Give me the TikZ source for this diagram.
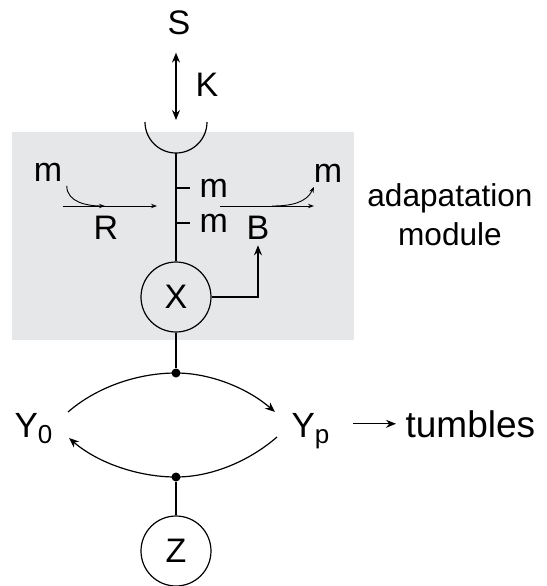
\documentclass[tikz,border=0pt]{standalone}
\usepackage{fontspec}
\setmainfont{Liberation Sans}
\usepackage{xcolor}
\usetikzlibrary{arrows.meta,positioning,calc}
\definecolor{modgray}{RGB}{230,231,232}

\begin{document}
\begin{tikzpicture}[
            x=0.5pt, y=0.5pt,
            line width=0.6pt,
            lbl/.style={font=\fontsize{17}{20}\selectfont, inner sep=0pt},
            species/.style={circle, draw, minimum size=35pt, inner sep=0pt, font=\fontsize{17}{20}\selectfont},
            flux/.style={line width=0.45pt, -{Stealth[length=3pt,width=2.2pt]}},
            bigtip/.style={-{Stealth[length=5pt,width=4pt]}},
            junc/.style={circle, fill, inner sep=0pt, minimum size=4.5pt},
        ]
            \useasboundingbox (0,0) rectangle (547,-586);
            \fill[modgray] (12,-132) rectangle (354,-340);

            % receptor
            \node[lbl] (S) at (179,-23) {S};
            \node[lbl] (K) at (207,-85) {K};
            \coordinate (cuptop) at (176,-120);
            \coordinate (cup) at (176,-153);
            \draw (145,-122) arc[start angle=180, end angle=360, radius=31];
            \draw[{Stealth[length=5pt,width=4pt]}-{Stealth[length=5pt,width=4pt]}] ([yshift=-8.5pt]S.south -| cup) -- (cuptop);

            % adaptation module
            \node[species] (X) at (176,-297) {X};
            \draw (cup) -- (X);
            \coordinate (t1) at (176,-188);
            \coordinate (t2) at (176,-223);
            \draw (t1) -- ++(14,0) node[lbl, right=4.5pt] (m1) {m};
            \draw (t2) -- ++(14,0) node[lbl, right=4.5pt] (m2) {m};

            \node[lbl] (min) at (48,-172) {m};
            \node[lbl] (R) at (106,-228) {R};
            \coordinate (rin) at (63,-206);
            \coordinate (rmid) at (105,-206);
            \coordinate (rout) at (157,-206);
            \draw[flux] (rin) -- (rout);
            \draw[flux] ([xshift=2pt,yshift=-2pt]min.south east) to[out=-90,in=180] (rmid);

            \node[lbl] (mout) at (328,-173) {m};
            \node[lbl] (B) at (258,-228) {B};
            \coordinate (bin) at (220,-206);
            \coordinate (bmid) at (272,-206);
            \coordinate (bout) at (314,-206);
            \draw[flux] (bin) -- (bout);
            \draw[flux] (bmid) to[out=0,in=-115] ([xshift=-7pt,yshift=-2pt]mout.south);
            \draw[bigtip] (X.east) -| ([yshift=-2.5pt]B.south);

            \node[font=\fontsize{15.8}{19.5}\selectfont, align=center] (modlbl) at (450,-215) {adapatation\\module};

            % response regulator
            \node[junc] (j1) at (176,-373) {};
            \node[junc] (j2) at (176,-477) {};
            \draw (X) -- (j1);
            \node[lbl, anchor=base west] (Y0) at (14,-437) {\fontsize{17.5}{20}\selectfont Y\raisebox{-3pt}{\fontsize{13}{12}\selectfont 0}};
            \node[lbl, anchor=base west] (Yp) at (291,-437) {\fontsize{17.5}{20}\selectfont Y\raisebox{-3pt}{\fontsize{13}{12}\selectfont p}};
            \coordinate (a1) at (68,-412);
            \coordinate (a2) at (275,-412);
            \coordinate (b1) at (277,-437);
            \coordinate (b2) at (69,-438);
            \draw (a1) to[out=41,in=180,looseness=0.85] (j1.center);
            \draw[bigtip] (j1.center) to[out=0,in=139,looseness=0.85] (a2);
            \draw (b1) to[out=-139,in=0,looseness=0.85] (j2.center);
            \draw[bigtip] (j2.center) to[out=180,in=-41,looseness=0.85] (b2);

            \node[lbl, anchor=base west, font=\fontsize{18.5}{20}\selectfont] (tumb) at (405,-437) {tumbles};
            \draw[bigtip, shorten <=11.5pt, shorten >=4.5pt] (Yp.east |- tumb.west) -- (tumb.west);

            \node[species] (Z) at (176,-551) {Z};
            \draw (j2) -- (Z);

        \end{tikzpicture}
\end{document}
